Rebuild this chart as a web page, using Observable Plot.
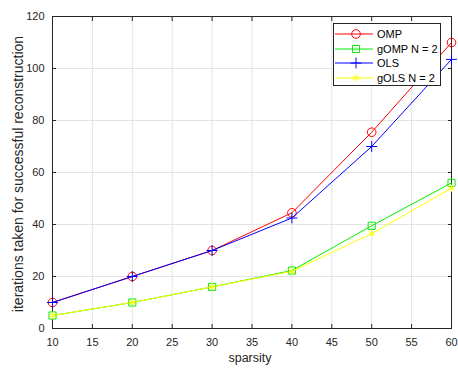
<!DOCTYPE html>
<html>
<head>
<meta charset="utf-8">
<script src="https://cdn.jsdelivr.net/npm/d3@7"></script>
<script src="https://cdn.jsdelivr.net/npm/@observablehq/plot@0.6"></script>
<style>
  body { margin: 0; background: #fff; font-family: "Liberation Sans", Arial, sans-serif; }
  #wrap { position: relative; width: 458px; height: 369px; }
  #legend { position: absolute; left: 333px; top: 23px; width: 108px; height: 63px;
    border: 1px solid #262626; background: #fff; box-sizing: border-box; }
  #legend .row { position: absolute; left: 0; height: 14px; display: flex; align-items: center; }
  #legend .lab { font-size: 11px; color: #000; margin-left: 3px; }
</style>
</head>
<body>
<div id="wrap"><div id="legend"></div></div>
<script>
const sparsity = [10, 20, 30, 40, 50, 60];
const omp  = [10, 20, 30, 44.5, 75.5, 110];
const gomp = [5, 10, 16, 22.3, 39.5, 56];
const ols  = [10, 20, 30, 42.5, 70, 103.5];
const gols = [5, 10, 16, 22, 36.5, 54];
const xTicks = [10, 15, 20, 25, 30, 35, 40, 45, 50, 55, 60];
const yTicks = [0, 20, 40, 60, 80, 100, 120];

const seriesDefs = [
  {name: "OMP", values: omp, color: "#ff0000", symbol: "circle", r: 4.3},
  {name: "gOMP N = 2", values: gomp, color: "#00ee00", symbol: "square", r: 4},
  {name: "OLS", values: ols, color: "#0000ff", symbol: "plus", r: 3.6},
  {name: "gOLS N = 2", values: gols, color: "#ffff00", symbol: "asterisk", r: 3.4}
];

const marks = [
  Plot.gridX(xTicks, {stroke: "#e3e3e3", strokeOpacity: 1}),
  Plot.gridY(yTicks, {stroke: "#e3e3e3", strokeOpacity: 1}),
  Plot.frame({stroke: "#262626"}),
  Plot.axisX(xTicks, {tickSize: 0, tickPadding: 10, fontSize: 11, color: "#262626", label: null}),
  Plot.axisX(xTicks, {tickSize: -4, text: null, stroke: "#262626", label: null}),
  Plot.axisX(xTicks, {anchor: "top", tickSize: -4, text: null, stroke: "#262626", label: null}),
  Plot.axisY(yTicks, {tickSize: 0, tickPadding: 8, fontSize: 11, color: "#262626", label: null}),
  Plot.axisY(yTicks, {tickSize: -4, text: null, stroke: "#262626", label: null}),
  Plot.axisY(yTicks, {anchor: "right", tickSize: -4, text: null, stroke: "#262626", label: null})
];
for (const s of seriesDefs) {
  const rows = sparsity.map((x, i) => ({x, y: s.values[i]}));
  marks.push(Plot.line(rows, {x: "x", y: "y", stroke: s.color, strokeWidth: 1}));
  marks.push(Plot.dot(rows, {x: "x", y: "y", stroke: s.color, fill: "none", symbol: s.symbol, r: s.r, strokeWidth: 1}));
}

const chart = Plot.plot({
  width: 458, height: 369,
  marginLeft: 52, marginRight: 7, marginTop: 16, marginBottom: 41,
  x: {domain: [10, 60]},
  y: {domain: [0, 120]},
  style: {fontFamily: "Liberation Sans, Arial, sans-serif", background: "#fff"},
  marks
});
const wrap = document.getElementById("wrap");
wrap.insertBefore(chart, wrap.firstChild);

// axis titles as SVG text
const ns = "http://www.w3.org/2000/svg";
const xl = document.createElementNS(ns, "text");
xl.setAttribute("x", 250); xl.setAttribute("y", 362);
xl.setAttribute("text-anchor", "middle"); xl.setAttribute("font-size", "12.5");
xl.setAttribute("fill", "#262626"); xl.textContent = "sparsity";
chart.appendChild(xl);
const yl = document.createElementNS(ns, "text");
yl.setAttribute("transform", "translate(23,174) rotate(-90)");
yl.setAttribute("text-anchor", "middle"); yl.setAttribute("font-size", "14");
yl.setAttribute("fill", "#262626"); yl.textContent = "iterations taken for successful reconstruction";
chart.appendChild(yl);

// legend
const legend = document.getElementById("legend");
const symbolMap = {circle: d3.symbolCircle, square: d3.symbolSquare, plus: d3.symbolPlus, asterisk: d3.symbolAsterisk};
seriesDefs.forEach((s, i) => {
  const row = document.createElement("div");
  row.className = "row";
  row.style.top = (3 + i * 14.7) + "px";
  const sw = d3.create("svg").attr("width", 40).attr("height", 14);
  sw.append("line").attr("x1", 1).attr("x2", 39).attr("y1", 7).attr("y2", 7).attr("stroke", s.color);
  sw.append("path").attr("transform", "translate(22,7)")
    .attr("d", d3.symbol(symbolMap[s.symbol], s.r * s.r * Math.PI)())
    .attr("fill", "none").attr("stroke", s.color);
  row.appendChild(sw.node());
  const lab = document.createElement("span");
  lab.className = "lab"; lab.textContent = s.name;
  row.appendChild(lab);
  legend.appendChild(row);
});
</script>
</body>
</html>
